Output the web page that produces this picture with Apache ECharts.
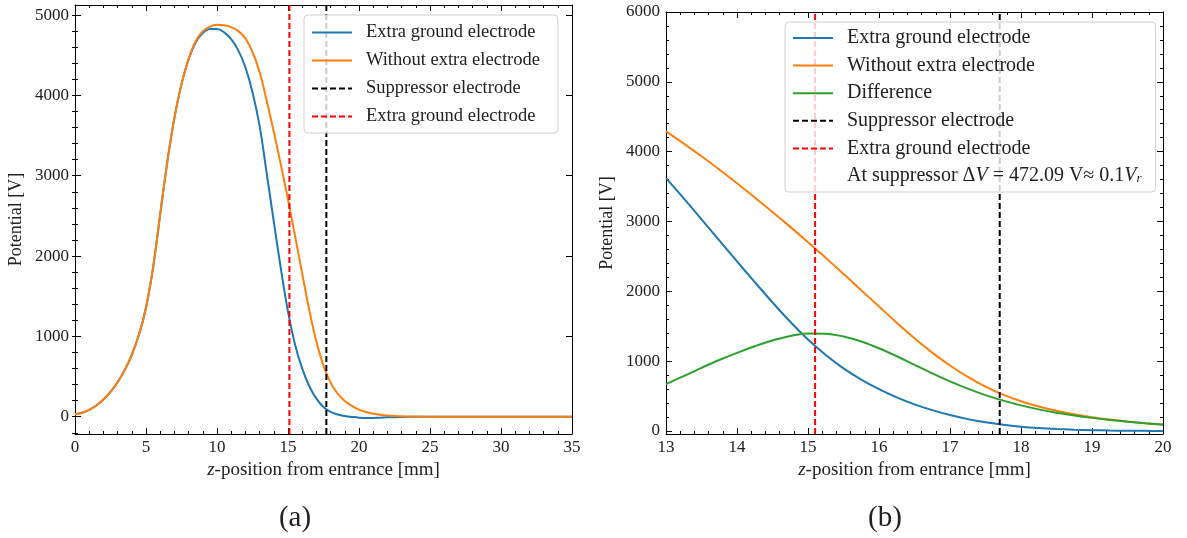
<!DOCTYPE html>
<html>
<head>
<meta charset="utf-8">
<script src="https://cdn.jsdelivr.net/npm/echarts@6/dist/echarts.min.js"></script>
<style>
  html, body { margin: 0; background: #fff; }
  #main { width: 1187px; height: 538px; }
</style>
</head>
<body>
<div id="main"></div>
<script>
// (a) full range
const zLeft = [0, 0.5, 1, 1.5, 2, 2.5, 3, 3.5, 4, 4.5, 5, 5.5, 6, 6.5, 7, 7.5, 8, 8.5, 9, 9.5,
  10, 10.5, 11, 11.5, 12, 12.5, 13, 13.5, 14, 14.5, 15, 15.5, 16, 16.5, 17, 17.5, 18, 18.5, 19, 19.5,
  20, 20.5, 21, 21.5, 22, 23, 24, 25, 27, 30, 35];
const blueLeft = [30, 50, 85, 140, 215, 310, 430, 580, 770, 1020, 1360, 1860, 2520, 3170, 3720, 4140, 4450, 4660, 4775, 4825,
  4825, 4785, 4700, 4560, 4350, 4040, 3620, 3030, 2428, 1840, 1308, 896, 598, 380, 226, 122, 60, 27, 10, -2,
  -12, -17, -16, -12, -8, -3, -1, 0, 0, 0, 0];
const orangeLeft = [30, 50, 85, 140, 215, 310, 430, 580, 770, 1020, 1360, 1860, 2520, 3170, 3720, 4140, 4455, 4675, 4800, 4855,
  4878, 4873, 4850, 4800, 4710, 4540, 4290, 3933, 3546, 3135, 2703, 2248, 1781, 1326, 936, 634, 425, 287, 196, 134,
  88, 58, 38, 25, 16, 6, 2, 1, 0, 0, 0];

// (b) zoomed range
const zRight = [13, 13.25, 13.5, 13.75, 14, 14.25, 14.5, 14.75, 15, 15.25, 15.5, 15.75, 16, 16.25, 16.5, 16.75,
  17, 17.25, 17.5, 17.75, 18, 18.25, 18.5, 18.75, 19, 19.25, 19.5, 19.75, 20];
const blueRight = [3620, 3330, 3030, 2728, 2428, 2131, 1840, 1562, 1308, 1086, 896, 735, 598, 480, 380, 297,
  226, 168, 122, 86, 60, 41, 27, 17, 10, 5, 2, 0, -2];
const orangeRight = [4290, 4115, 3933, 3743, 3546, 3343, 3135, 2922, 2703, 2478, 2248, 2015, 1781, 1549, 1326, 1121,
  936, 773, 634, 519, 425, 349, 287, 237, 196, 162, 134, 109, 88];
const diffRight = [670, 785, 903, 1015, 1118, 1212, 1295, 1360, 1395, 1392, 1352, 1280, 1183, 1069, 946, 824,
  710, 605, 512, 433, 365, 308, 260, 220, 186, 157, 132, 109, 90];

const extraGroundZ = 15.1;
const suppressorZ = 17.7;

const yTicksLeft = [0, 1000, 2000, 3000, 4000, 5000];
const yTicksRight = [0, 1000, 2000, 3000, 4000, 5000, 6000];

const FONT = 'Liberation Serif';
const C_BLUE = '#1f77b4', C_ORANGE = '#ff7f0e', C_GREEN = '#2ca02c';

function minorList(lo, hi, step) {
  const out = [];
  for (let v = Math.ceil(lo / step) * step; v <= hi; v += step) out.push(Math.round(v));
  return out;
}
function pairs(xs, ys) { return xs.map((x, i) => [x, ys[i]]); }

const grids = [
  { left: 75, top: 5, width: 497, height: 429 },
  { left: 666, top: 12, width: 497, height: 422 }
];
const ranges = [
  { x: [0, 35], xi: 5, y: [-215, 5125], yt: yTicksLeft },
  { x: [13, 20], xi: 1, y: [-45, 6000], yt: yTicksRight }
];

const xAxis = [], yAxis = [];
ranges.forEach((r, g) => {
  const base = {
    type: 'value', gridIndex: g, min: r.x[0], max: r.x[1], interval: r.xi,
    splitLine: { show: false },
    axisLine: { show: true, onZero: false, lineStyle: { color: '#000', width: 1 } },
    axisTick: { show: true, inside: true, length: 6, lineStyle: { color: '#000' } },
    minorTick: { show: true, splitNumber: 5, length: 3, lineStyle: { color: '#000' } }
  };
  xAxis.push(Object.assign({}, base, {
    position: 'bottom',
    axisLabel: { margin: 5, color: '#222', fontFamily: FONT, fontSize: 17 },
    name: '{i|z}-position from entrance [mm]', nameLocation: 'middle', nameGap: 24,
    nameTextStyle: {
      color: '#222', fontFamily: FONT, fontSize: 19,
      rich: { i: { fontStyle: 'italic', fontFamily: FONT, fontSize: 19, color: '#222' } }
    }
  }));
  xAxis.push(Object.assign({}, base, { position: 'top', axisLabel: { show: false } }));

  const minor = minorList(r.y[0], r.y[1], 200);
  const yBase = {
    type: 'value', gridIndex: g, min: r.y[0], max: r.y[1],
    splitLine: { show: false }, axisLabel: { show: false }
  };
  yAxis.push(Object.assign({}, yBase, {
    position: 'left', offset: 0,
    axisLine: { show: true, onZero: false, lineStyle: { color: '#000', width: 1 } },
    axisTick: { show: true, inside: true, length: 6, customValues: r.yt, lineStyle: { color: '#000' } },
    axisLabel: {
      show: true, customValues: r.yt, margin: 6, color: '#222', fontFamily: FONT, fontSize: 17,
      formatter: v => String(v)
    },
    name: 'Potential [V]', nameLocation: 'middle', nameGap: 50, nameRotate: 90,
    nameTextStyle: { color: '#222', fontFamily: FONT, fontSize: 18 }
  }));
  yAxis.push(Object.assign({}, yBase, {
    position: 'right', offset: 0,
    axisLine: { show: true, onZero: false, lineStyle: { color: '#000', width: 1 } },
    axisTick: { show: true, inside: true, length: 6, customValues: r.yt, lineStyle: { color: '#000' } }
  }));
  yAxis.push(Object.assign({}, yBase, {
    position: 'left', offset: 0, axisLine: { show: false },
    axisTick: { show: true, inside: true, length: 3, customValues: minor, lineStyle: { color: '#000' } }
  }));
  yAxis.push(Object.assign({}, yBase, {
    position: 'right', offset: 0, axisLine: { show: false },
    axisTick: { show: true, inside: true, length: 3, customValues: minor, lineStyle: { color: '#000' } }
  }));
});

function curve(name, g, xs, ys, color) {
  return {
    type: 'line', name: name, xAxisIndex: g * 2, yAxisIndex: g * 4,
    data: pairs(xs, ys), symbol: 'none', showSymbol: false,
    smooth: 0.4,
    lineStyle: { color: color, width: 2 }, itemStyle: { color: color },
    emphasis: { disabled: true }, z: 2
  };
}
function vline(name, g, z, color) {
  const r = ranges[g].y;
  return {
    type: 'line', name: name, xAxisIndex: g * 2, yAxisIndex: g * 4,
    data: [[z, r[0]], [z, r[1]]], symbol: 'none', showSymbol: false,
    lineStyle: { color: color, width: 2, type: [6, 3] }, itemStyle: { color: color },
    emphasis: { disabled: true }, z: 3
  };
}

const NOTE = 'At suppressor \u0394V = 472.09 V\u2248 0.1V_r';
// red dashed entry shares its label with the blue curve; a zero-width space keeps them apart
const EXTRA_DASH = 'Extra ground electrode\u200b';

const series = [
  curve('Extra ground electrode', 0, zLeft, blueLeft, C_BLUE),
  curve('Without extra electrode', 0, zLeft, orangeLeft, C_ORANGE),
  vline('Suppressor electrode', 0, suppressorZ, '#000'),
  vline(EXTRA_DASH, 0, extraGroundZ, '#ff0000'),
  curve('Extra ground electrode', 1, zRight, blueRight, C_BLUE),
  curve('Without extra electrode', 1, zRight, orangeRight, C_ORANGE),
  curve('Difference', 1, zRight, diffRight, C_GREEN),
  vline('Suppressor electrode', 1, suppressorZ, '#000'),
  vline(EXTRA_DASH, 1, extraGroundZ, '#ff0000'),
  { type: 'line', name: NOTE, xAxisIndex: 2, yAxisIndex: 4, data: [], symbol: 'none',
    lineStyle: { color: 'rgba(0,0,0,0)' }, itemStyle: { color: 'rgba(0,0,0,0)' } }
];

function legendStyle(size, lh) {
  return {
    orient: 'vertical', itemWidth: 40, itemHeight: 14, z: 10,
    backgroundColor: 'rgba(255,255,255,0.8)', borderColor: '#d0d0d0', borderWidth: 1, borderRadius: 4,
    selectedMode: false,
    itemStyle: { opacity: 0, borderWidth: 0 },
    textStyle: {
      color: '#222', fontFamily: FONT, fontSize: size, lineHeight: lh, padding: [0, 0, 0, 9],
      rich: {
        t: { fontFamily: FONT, fontSize: size, lineHeight: lh, color: '#222' },
        i: { fontFamily: FONT, fontSize: size, lineHeight: lh, fontStyle: 'italic', color: '#222' },
        s: { fontFamily: FONT, fontSize: Math.round(size * 0.65), fontStyle: 'italic', color: '#222', verticalAlign: 'bottom', padding: [9, 0, 0, 0] }
      }
    },
    formatter: function (n) {
      if (n === NOTE) return '{t|At suppressor \u0394}{i|V}{t| = 472.09 V\u2248 0.1}{i|V}{s|r}';
      return n;
    }
  };
}

const option = {
  animation: false,
  backgroundColor: '#fff',
  grid: grids,
  xAxis: xAxis,
  yAxis: yAxis,
  legend: [
    Object.assign(legendStyle(18.5, 18), {
      left: 304, top: 15, padding: [8, 18, 7, 7], itemGap: 9,
      data: ['Extra ground electrode', 'Without extra electrode', 'Suppressor electrode', EXTRA_DASH]
    }),
    Object.assign(legendStyle(20, 19), {
      left: 785, top: 22, padding: [6, 14, 6, 7], itemGap: 7.6,
      data: ['Extra ground electrode', 'Without extra electrode', 'Difference', 'Suppressor electrode', EXTRA_DASH, NOTE]
    })
  ],
  graphic: [
    { type: 'text', x: 295, y: 518, style: { text: '(a)', font: '29px "Liberation Serif"', fill: '#222', textAlign: 'center', textVerticalAlign: 'middle' } },
    { type: 'text', x: 885, y: 518, style: { text: '(b)', font: '29px "Liberation Serif"', fill: '#222', textAlign: 'center', textVerticalAlign: 'middle' } }
  ],
  series: series
};

const myChart = echarts.init(document.getElementById('main'));
myChart.setOption(option);
</script>
</body>
</html>
